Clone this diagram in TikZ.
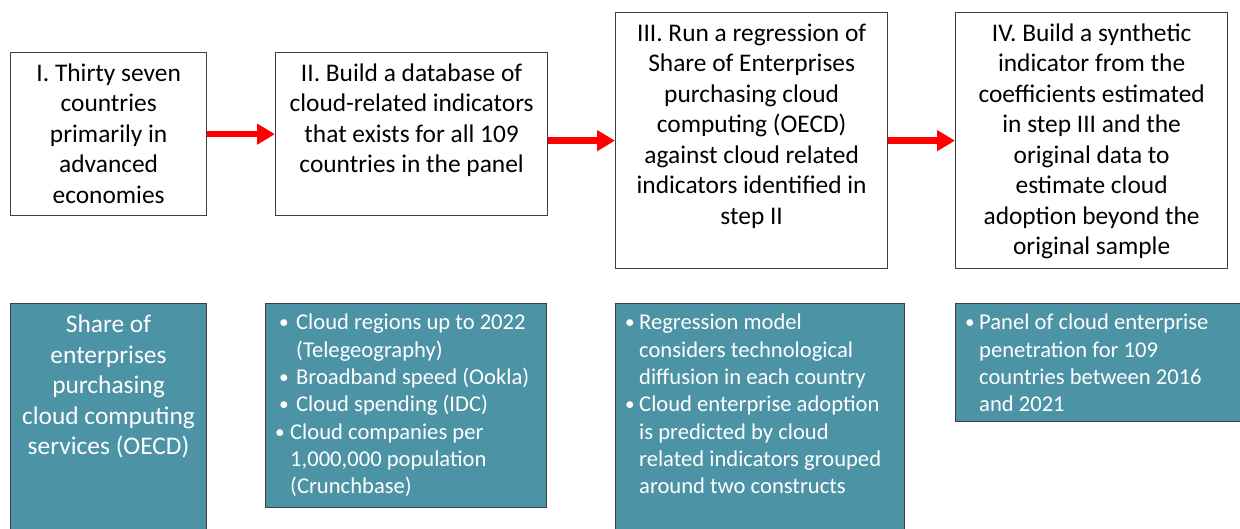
\documentclass[tikz,border=0pt]{standalone}
\usepackage{fontspec}
\setmainfont{Carlito}
\usetikzlibrary{arrows.meta}
\definecolor{tealbox}{RGB}{75,147,165}
\definecolor{edge}{RGB}{64,64,64}
\newcommand\bul[1]{\makebox[#1][l]{\raisebox{1pt}{\scalebox{0.85}{\textbullet}}}}
\newcommand\ind[1]{\hspace*{#1}}
\begin{document}
\begin{tikzpicture}[x=1pt,y=-1pt,
  stepbox/.style={draw=edge,line width=1.3pt,fill=white,anchor=north west,inner sep=0pt},
  steptext/.style={anchor=north,align=center,inner sep=0pt,font=\fontsize{25.4}{30.5}\selectfont},
  tealrect/.style={draw=edge,line width=1pt,fill=tealbox,anchor=north west,inner sep=0pt},
  tealtext/.style={text=white,anchor=north west,align=left,inner sep=0pt,font=\fontsize{22.6}{27.3}\selectfont},
  flow/.style={draw=red,line width=6.5pt,-{Triangle[length=18pt,width=20pt]}}]
\useasboundingbox (0,0) rectangle (1240,529);
\clip (0,0) rectangle (1240,529);
% top step boxes
\node[stepbox,minimum width=196pt,minimum height=163pt] (b1) at (10,52) {};
\node[stepbox,minimum width=272pt,minimum height=163pt] (b2) at (275,52) {};
\node[stepbox,minimum width=272pt,minimum height=256pt] (b3) at (615,12) {};
\node[stepbox,minimum width=272pt,minimum height=256pt] (b4) at (955,12) {};
\node[steptext] (b1txt) at ([yshift=-11.5pt]b1.north)
  {I. Thirty seven\\countries\\primarily in\\advanced\\economies};
\node[steptext] (b2txt) at ([yshift=-11.5pt]b2.north)
  {II. Build a database of\\cloud-related indicators\\that exists for all 109\\countries in the panel};
\node[steptext] (b3txt) at ([yshift=-11.5pt]b3.north)
  {III. Run a regression of\\Share of Enterprises\\purchasing cloud\\computing (OECD)\\against cloud related\\indicators identified in\\step II};
\node[steptext] (b4txt) at ([yshift=-11.5pt]b4.north)
  {IV. Build a synthetic\\indicator from the\\coefficients estimated\\in step III and the\\original data to\\estimate cloud\\adoption beyond the\\original sample};
% arrows
\draw[flow] (b1.east) -- (b2.west);
\draw[flow] (b2.east |- b3.west) -- (b3.west);
\draw[flow] (b3.east) -- (b4.west);
% teal boxes
\node[tealrect,minimum width=196pt,minimum height=240pt] (t1) at (10,303) {};
\node[tealrect,minimum width=281pt,minimum height=204pt] (t2) at (265,303) {};
\node[tealrect,minimum width=289pt,minimum height=240pt] (t3) at (615,303) {};
\node[tealrect,minimum width=300pt,minimum height=118pt] (t4) at (955,303) {};
\node[text=white,anchor=north,align=center,inner sep=0pt,font=\fontsize{25.4}{30.5}\selectfont] (t1txt) at ([yshift=-12pt]t1.north)
  {Share of\\enterprises\\purchasing\\cloud computing\\services (OECD)};
\node[tealtext] (t2txt) at ([xshift=10pt,yshift=-11pt]t2.north west)
  {\ind{4pt}\bul{17pt}Cloud regions up to 2022\\
   \ind{21pt}(Telegeography)\\
   \ind{4pt}\bul{17pt}Broadband speed (Ookla)\\
   \ind{4pt}\bul{17pt}Cloud spending (IDC)\\
   \bul{15pt}Cloud companies per\\
   \ind{15pt}1,000,000 population\\
   \ind{15pt}(Crunchbase)};
\node[tealtext] (t3txt) at ([xshift=10pt,yshift=-11pt]t3.north west)
  {\bul{14pt}Regression model\\
   \ind{14pt}considers technological\\
   \ind{14pt}diffusion in each country\\
   \bul{14pt}Cloud enterprise adoption\\
   \ind{14pt}is predicted by cloud\\
   \ind{14pt}related indicators grouped\\
   \ind{14pt}around two constructs};
\node[tealtext] (t4txt) at ([xshift=10pt,yshift=-11pt]t4.north west)
  {\bul{14pt}Panel of cloud enterprise\\
   \ind{14pt}penetration for 109\\
   \ind{14pt}countries between 2016\\
   \ind{14pt}and 2021};
\end{tikzpicture}
\end{document}
